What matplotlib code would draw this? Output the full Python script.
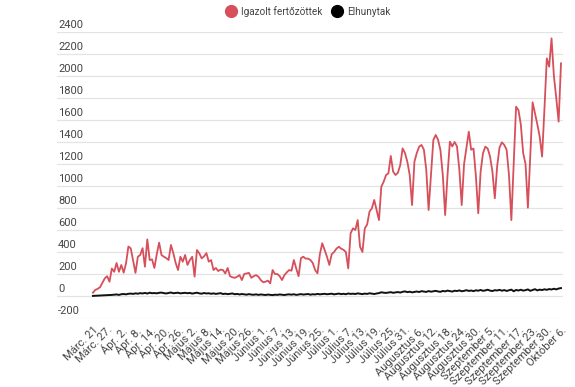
import matplotlib
matplotlib.use("Agg")
import matplotlib.pyplot as plt
import matplotlib.transforms as mtransforms
from matplotlib.lines import Line2D

plt.rcParams['font.family'] = ['Roboto', 'DejaVu Sans']

confirmed = [
    30, 55, 65, 80, 120, 160, 180, 130, 250, 220,
    300, 220, 282, 212, 297, 450, 433, 320, 210, 357,
    373, 435, 266, 515, 327, 333, 255, 380, 485, 373,
    357, 345, 327, 464, 390, 300, 236, 357, 312, 373,
    282, 327, 357, 176, 418, 388, 342, 360, 390, 312,
    327, 236, 255, 227, 240, 236, 205, 255, 180, 170,
    165, 175, 190, 145, 200, 205, 210, 165, 180, 190,
    175, 145, 125, 130, 140, 115, 236, 200, 200, 180,
    145, 190, 215, 236, 230, 327, 250, 180, 345, 357,
    340, 340, 327, 300, 236, 206, 380, 479, 420, 357,
    282, 380, 400, 430, 448, 430, 420, 400, 251, 570,
    615, 600, 690, 448, 400, 615, 650, 767, 797, 873,
    780, 690, 994, 1040, 1100, 1115, 1273, 1130, 1100, 1120,
    1190, 1342, 1300, 1221, 1100, 827, 1221, 1300, 1358, 1373,
    1330, 1150, 782, 1100, 1418, 1464, 1420, 1327, 1100, 736,
    1100, 1403, 1360, 1400, 1360, 1150, 827, 1200, 1350, 1494,
    1330, 1340, 1090, 752, 1130, 1297, 1358, 1340, 1267, 1130,
    888, 1180, 1350, 1397, 1373, 1330, 1100, 690, 1200, 1721,
    1690, 1560, 1300, 1200, 803, 1270, 1761, 1660, 1560, 1448,
    1267, 1700, 2160, 2085, 2342, 2000, 1800, 1585, 2115,
]

deaths = [
    1, 2, 3, 3, 5, 6, 8, 7, 10, 12, 14, 10, 16, 18, 15, 20, 22, 19, 24, 21,
    26, 23, 28, 22, 30, 25, 27, 24, 29, 31, 26, 23, 28, 32, 25, 27, 30, 24, 26, 29,
    25, 28, 22, 26, 30, 24, 21, 27, 23, 25, 20, 24, 19, 22, 26, 18, 21, 17, 20, 23,
    16, 19, 14, 18, 15, 12, 17, 13, 11, 15, 10, 14, 12, 9, 13, 11, 8, 12, 10, 14,
    11, 9, 13, 15, 12, 16, 10, 14, 17, 13, 15, 18, 12, 16, 14, 19, 15, 17, 20, 16,
    18, 21, 15, 19, 22, 17, 20, 16, 23, 19, 21, 18, 24, 20, 17, 22, 19, 25, 21, 18,
    23, 26, 34, 30, 28, 32, 35, 29, 33, 36, 31, 38, 42, 35, 39, 33, 37, 41, 36, 44,
    40, 37, 45, 39, 43, 47, 41, 38, 46, 42, 49, 44, 40, 48, 45, 51, 43, 47, 53, 46,
    50, 44, 52, 48, 55, 47, 51, 57, 49, 45, 53, 50, 56, 48, 54, 46, 52, 58, 43, 55,
    50, 57, 49, 53, 60, 47, 55, 62, 51, 58, 54, 61, 56, 63, 59, 66, 60, 68, 72,
]

tick_labels = [
    "Márc. 21", "Márc. 27.", "Ápr. 2.", "Ápr. 8.", "Ápr. 14.", "Ápr. 20.", "Ápr. 26.",
    "Május 2.", "Május 8.", "Május 14.", "Május 20.", "Május 26.",
    "Június 1.", "Június 7.", "Június 13.", "Június 19.", "Június 25.",
    "Július 1.", "Július 7.", "Július 13.", "Július 19.", "Július 25.", "Július 31.",
    "Augusztus 6.", "Augusztus 12.", "Augusztus 18.", "Augusztus 24.", "Augusztus 30.",
    "Szeptember 5.", "Szeptember 11.", "Szeptember 17.", "Szeptember 23.", "Szeptember 30.",
    "Október 6.",
]

y_ticks = [-200, 0, 200, 400, 600, 800, 1000, 1200, 1400, 1600, 1800, 2000, 2200, 2400]
series_names = ["Igazolt fertőzöttek", "Elhunytak"]

RED = '#d64f5a'
BLACK = '#111111'
TXT = '#444444'

W, H = 575, 387
fig = plt.figure(figsize=(W / 100, H / 100), dpi=100)
ax = fig.add_axes([57 / W, 1 - 318 / H, (563 - 57) / W, (318 - 32) / H])

x = list(range(len(confirmed)))
ax.plot(x, confirmed, color=RED, lw=1.3, zorder=3)
ax.plot(x, deaths, color=BLACK, lw=1.4, zorder=4)

ax.set_xlim(-15.2, 198.85)
ax.set_ylim(-200, 2400)

for s in ax.spines.values():
    s.set_visible(False)

ax.set_yticks(y_ticks)
ax.yaxis.grid(True, color='#e4e4e4', lw=0.9)
ax.set_axisbelow(True)
ax.tick_params(axis='y', length=0, labelleft=False)

trans = mtransforms.blended_transform_factory(ax.transAxes, ax.transData)
trans = mtransforms.offset_copy(trans, fig=fig, x=1, y=2, units='dots')
for v in y_ticks:
    ax.text(0.0, v, str(v), transform=trans, ha='left', va='bottom',
            fontsize=8, color=TXT)

ticks = list(range(0, len(confirmed), 6))
ax.set_xticks(ticks)
ax.set_xticklabels(tick_labels, rotation=45, ha='right', va='top',
                   rotation_mode='anchor', fontsize=8, color=TXT)
ax.tick_params(axis='x', length=0, pad=5)

handles = [
    Line2D([], [], marker='o', ls='none', color=RED, markersize=8.5),
    Line2D([], [], marker='o', ls='none', color='black', markersize=8.5),
]
fig.legend(handles, series_names, loc='upper center', bbox_to_anchor=(308 / W, 1.0),
           ncol=2, frameon=False, fontsize=7.2, handletextpad=0.5, columnspacing=1.0,
           handlelength=1.0, labelcolor=TXT, borderaxespad=0.2)

fig.savefig('out.png', dpi=100)
